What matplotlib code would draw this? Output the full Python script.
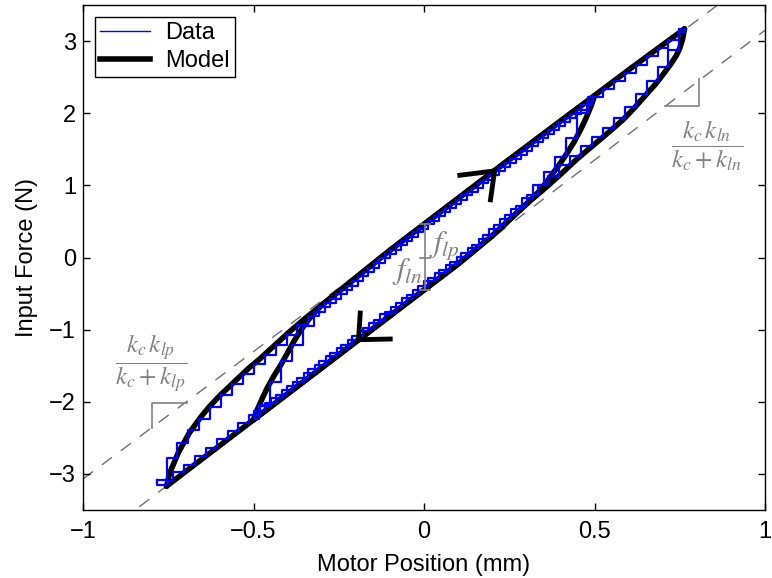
import numpy as np
import matplotlib
matplotlib.use('Agg')
import matplotlib.pyplot as plt
from matplotlib.lines import Line2D

plt.rcParams['font.family'] = ['Liberation Sans', 'DejaVu Sans']
plt.rcParams['mathtext.fontset'] = 'stix'

# ---------------- measured data (staircase, 4 passes) ----------------
# pass A: outer loop, increasing position
dataA_x = [-0.784, -0.755, -0.723, -0.691, -0.659, -0.627, -0.595, -0.563, -0.531, -0.499,
           -0.467, -0.435, -0.403, -0.371, -0.339, -0.307, -0.275, -0.243, -0.211, -0.179,
           -0.147, -0.115, -0.083, -0.051, -0.019, 0.013, 0.045, 0.077, 0.109, 0.141,
           0.173, 0.205, 0.237, 0.269, 0.301, 0.333, 0.365, 0.397, 0.429, 0.461,
           0.493, 0.525, 0.557, 0.589, 0.621, 0.653, 0.685, 0.717, 0.749, 0.764]
dataA_y = [-3.09, -2.78, -2.57, -2.39, -2.24, -2.07, -1.90, -1.76, -1.62, -1.48,
           -1.35, -1.21, -1.07, -0.93, -0.81, -0.69, -0.57, -0.45, -0.33, -0.20,
           -0.08, 0.05, 0.17, 0.29, 0.40, 0.51, 0.63, 0.74, 0.86, 0.97,
           1.08, 1.20, 1.31, 1.42, 1.54, 1.65, 1.77, 1.88, 1.99, 2.11,
           2.22, 2.33, 2.45, 2.56, 2.67, 2.79, 2.90, 3.01, 3.12, 3.17]
# pass B: outer loop, decreasing position down to -0.5
dataB_x = [0.764, 0.749, 0.717, 0.685, 0.653, 0.621, 0.589, 0.557, 0.525, 0.493,
           0.461, 0.429, 0.397, 0.365, 0.333, 0.301, 0.269, 0.237, 0.205, 0.173,
           0.141, 0.109, 0.077, 0.045, 0.013, -0.019, -0.051, -0.083, -0.115, -0.147,
           -0.179, -0.211, -0.243, -0.275, -0.307, -0.339, -0.371, -0.403, -0.435, -0.467,
           -0.499]
dataB_y = [3.17, 2.88, 2.64, 2.44, 2.27, 2.09, 1.93, 1.80, 1.67, 1.54,
           1.41, 1.28, 1.13, 1.00, 0.86, 0.72, 0.59, 0.45, 0.31, 0.18,
           0.06, -0.06, -0.17, -0.29, -0.40, -0.52, -0.63, -0.75, -0.86, -0.98,
           -1.09, -1.21, -1.32, -1.44, -1.55, -1.67, -1.78, -1.90, -2.01, -2.13,
           -2.24]
# pass C: inner loop, increasing position up to 0.5
dataC_x = [-0.499, -0.483, -0.451, -0.419, -0.387, -0.355, -0.323, -0.291, -0.259, -0.227,
           -0.195, -0.163, -0.131, -0.099, -0.067, -0.035, -0.003, 0.029, 0.061, 0.093,
           0.125, 0.157, 0.189, 0.221, 0.253, 0.285, 0.317, 0.349, 0.381, 0.413,
           0.445, 0.477, 0.496]
dataC_y = [-2.24, -2.05, -1.72, -1.43, -1.21, -0.95, -0.75, -0.63, -0.51, -0.39,
           -0.26, -0.14, -0.01, 0.11, 0.23, 0.35, 0.46, 0.57, 0.69, 0.80,
           0.91, 1.03, 1.14, 1.25, 1.37, 1.48, 1.60, 1.71, 1.82, 1.94,
           2.05, 2.16, 2.23]
# pass D: inner reversal, decreasing position back to the lower corner
dataD_x = [0.496, 0.480, 0.448, 0.416, 0.384, 0.352, 0.320, 0.288, 0.256, 0.224,
           0.192, 0.160, 0.128, 0.096, 0.064, 0.032, 0.000, -0.032, -0.064, -0.096,
           -0.128, -0.160, -0.192, -0.224, -0.256, -0.288, -0.320, -0.352, -0.384, -0.416,
           -0.448, -0.480, -0.512, -0.544, -0.576, -0.608, -0.640, -0.672, -0.704, -0.736,
           -0.752, -0.784]
dataD_y = [2.23, 2.00, 1.66, 1.40, 1.18, 1.00, 0.82, 0.67, 0.53, 0.40,
           0.26, 0.13, 0.01, -0.11, -0.22, -0.33, -0.45, -0.56, -0.68, -0.79,
           -0.91, -1.02, -1.14, -1.25, -1.37, -1.49, -1.60, -1.72, -1.83, -1.95,
           -2.06, -2.18, -2.29, -2.41, -2.52, -2.64, -2.75, -2.87, -2.98, -3.10,
           -3.16, -3.16]

# ---------------- model curves ----------------
modelA_x = [-0.755, -0.746, -0.72, -0.688, -0.656, -0.63, -0.60, -0.571, -0.54, -0.513,
            -0.48, -0.455, -0.42, -0.397, -0.35, -0.30, -0.25, -0.20, -0.10, 0.0,
            0.2, 0.4, 0.6, 0.764]
modelA_y = [-3.17, -2.99, -2.70, -2.43, -2.22, -2.07, -1.92, -1.79, -1.65, -1.53,
            -1.40, -1.29, -1.14, -1.04, -0.85, -0.66, -0.47, -0.28, 0.10, 0.46,
            1.18, 1.89, 2.60, 3.17]
modelB_x = [0.764, 0.758, 0.75, 0.74, 0.725, 0.703, 0.682, 0.65, 0.62, 0.586, 0.55,
            0.5, 0.45, 0.4, 0.35, 0.3, 0.25, 0.2, 0.1, 0.0, -0.2, -0.4, -0.5]
modelB_y = [3.17, 3.02, 2.90, 2.80, 2.69, 2.55, 2.42, 2.25, 2.09, 1.92, 1.77,
            1.57, 1.37, 1.15, 0.94, 0.74, 0.52, 0.30, -0.09, -0.45, -1.17, -1.89, -2.25]
modelC_x = [-0.5, -0.49, -0.475, -0.46, -0.44, -0.42, -0.40, -0.38, -0.36, -0.34,
            -0.32, -0.30, -0.25, -0.20, -0.10, 0.0, 0.2, 0.4, 0.5]
modelC_y = [-2.25, -2.12, -1.96, -1.81, -1.64, -1.49, -1.32, -1.15, -1.00, -0.87,
            -0.76, -0.66, -0.47, -0.28, 0.10, 0.46, 1.18, 1.89, 2.24]
modelD_x = [0.5, 0.49, 0.475, 0.46, 0.44, 0.42, 0.40, 0.38, 0.36, 0.34,
            0.32, 0.30, 0.25, 0.2, 0.1, 0.0, -0.2, -0.4, -0.6, -0.7, -0.755]
modelD_y = [2.24, 2.10, 1.93, 1.78, 1.60, 1.45, 1.31, 1.18, 1.05, 0.93,
            0.83, 0.74, 0.52, 0.30, -0.09, -0.45, -1.17, -1.89, -2.61, -2.97, -3.17]

# ---------------- annotation geometry ----------------
asym_slopes = [3.53, 3.6]
asym_offsets = [0.46, -0.45]          # f_lp and -f_ln intercepts
arrow_up_x = [0.105, 0.207, 0.195]
arrow_up_y = [1.14, 1.20, 0.80]
arrow_dn_x = [-0.187, -0.192, -0.099]
arrow_dn_y = [-0.77, -1.14, -1.13]
tri_right_x = [0.706, 0.805, 0.805]
tri_right_y = [2.10, 2.10, 2.47]
tri_left_x = [-0.799, -0.799, -0.694]
tri_left_y = [-2.36, -2.02, -2.02]

xticks = [-1, -0.5, 0, 0.5, 1]
xticklabels = ['\u22121', '\u22120.5', '0', '0.5', '1']
yticks = [-3, -2, -1, 0, 1, 2, 3]
yticklabels = ['\u22123', '\u22122', '\u22121', '0', '1', '2', '3']

fig = plt.figure(figsize=(7.72, 5.78), dpi=100)
ax = fig.add_axes([83/772, 1 - 510/578, (765 - 83)/772, (510 - 5)/578])

gray = '#808080'
# asymptote dashed lines
xl = np.array([-1.0, 1.0])
for m, b in zip(asym_slopes, asym_offsets):
    ax.plot(xl, m * xl + b, color='#707070', lw=1.0, dashes=(9, 8), zorder=1)

# data staircase
dx = dataA_x + dataB_x + dataC_x + dataD_x + dataA_x[:1]
dy = dataA_y + dataB_y + dataC_y + dataD_y + dataA_y[:1]
ax.plot(dx, dy, drawstyle='steps-post', color='blue', lw=1.6, zorder=3)

# model
for mx, my in [(modelA_x, modelA_y), (modelB_x, modelB_y),
               (modelC_x, modelC_y), (modelD_x, modelD_y)]:
    ax.plot(mx, my, color='black', lw=4, solid_capstyle='round',
            solid_joinstyle='round', zorder=2)

# direction arrows
ax.plot(arrow_up_x, arrow_up_y, color='black', lw=3.5, zorder=4)
ax.plot(arrow_dn_x, arrow_dn_y, color='black', lw=3.5, zorder=4)

# slope triangles
ax.plot(tri_right_x, tri_right_y, color=gray, lw=1.2, zorder=1)
ax.plot(tri_left_x, tri_left_y, color=gray, lw=1.2, zorder=1)

# offset bar f_lp / f_ln
bx = 0.003
ax.plot([bx, bx], [asym_offsets[1], asym_offsets[0]], color=gray, lw=1.2, zorder=5)
for yy in [asym_offsets[0], 0.0, asym_offsets[1]]:
    ax.plot([bx - 0.015, bx + 0.015], [yy, yy], color=gray, lw=1.2, zorder=5)
ax.text(0.015, 0.17, r'$f_{lp}$', color=gray, fontsize=22, ha='left', va='center', zorder=6)
ax.text(-0.004, -0.19, r'$f_{ln}$', color=gray, fontsize=22, ha='right', va='center', zorder=6)

# stiffness fractions
ax.text(0.83, 1.55, r'$\dfrac{k_c\,k_{ln}}{k_c+k_{ln}}$', color=gray, fontsize=18,
        ha='center', va='center')
ax.text(-0.80, -1.47, r'$\dfrac{k_c\,k_{lp}}{k_c+k_{lp}}$', color=gray, fontsize=18,
        ha='center', va='center')

ax.set_xlim(-1, 1)
ax.set_ylim(-3.5, 3.5)
ax.set_xticks(xticks)
ax.set_xticklabels(xticklabels)
ax.set_yticks(yticks)
ax.set_yticklabels(yticklabels)
ax.tick_params(direction='in', top=True, right=True, length=5, width=1,
               labelsize=17, pad=8)
ax.tick_params(axis='y', pad=5)
for s in ax.spines.values():
    s.set_linewidth(1.0)
ax.set_xlabel('Motor Position (mm)', fontsize=17, labelpad=8)
ax.set_ylabel('Input Force (N)', fontsize=17, labelpad=8)

handles = [Line2D([], [], color='blue', lw=1.0),
           Line2D([], [], color='black', lw=4)]
leg = ax.legend(handles, ['Data', 'Model'], loc='upper left', fontsize=17,
                fancybox=False, framealpha=1, edgecolor='black',
                borderaxespad=0.5, handlelength=2.1, handletextpad=0.65,
                labelspacing=0.25, borderpad=0.22)
leg.get_frame().set_linewidth(1.0)

fig.savefig('out.png', dpi=100)
